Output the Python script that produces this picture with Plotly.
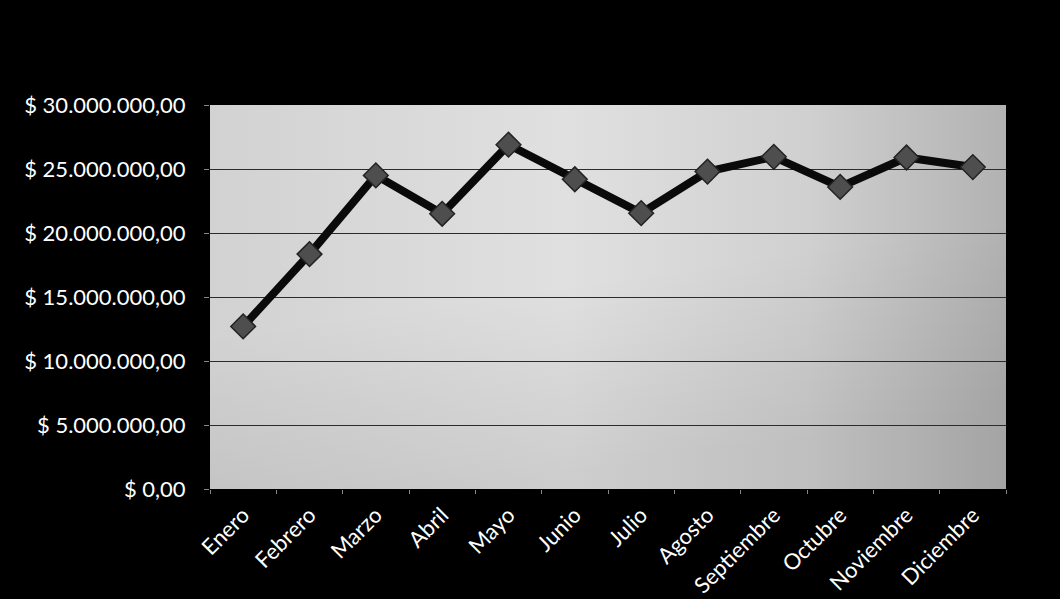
import plotly.graph_objects as go

meses = ["Enero", "Febrero", "Marzo", "Abril", "Mayo", "Junio", "Julio",
         "Agosto", "Septiembre", "Octubre", "Noviembre", "Diciembre"]
ventas = [12700000, 18350000, 24500000, 21500000, 26900000, 24200000,
          21550000, 24800000, 25950000, 23600000, 25900000, 25150000]
y_ticks = [0, 5000000, 10000000, 15000000, 20000000, 25000000, 30000000]
y_ticklabels = ["$ 0,00", "$ 5.000.000,00", "$ 10.000.000,00", "$ 15.000.000,00",
                "$ 20.000.000,00", "$ 25.000.000,00", "$ 30.000.000,00"]

svg = ("data:image/svg+xml;utf8,"
       "<svg xmlns='http://www.w3.org/2000/svg' width='800' height='400' preserveAspectRatio='none'>"
       "<defs><linearGradient id='g' x1='0' y1='0' x2='1' y2='0'>"
       "<stop offset='0' stop-color='%23d2d2d2'/>"
       "<stop offset='0.45' stop-color='%23e0e0e0'/>"
       "<stop offset='0.75' stop-color='%23d0d0d0'/>"
       "<stop offset='1' stop-color='%23b2b2b2'/></linearGradient>"
       "<linearGradient id='v' x1='0' y1='0' x2='0.3' y2='1'>"
       "<stop offset='0.55' stop-color='%23000' stop-opacity='0'/>"
       "<stop offset='1' stop-color='%23000' stop-opacity='0.08'/></linearGradient></defs>"
       "<rect width='800' height='400' fill='url(%23g)'/>"
       "<rect width='800' height='400' fill='url(%23v)'/></svg>")

fig = go.Figure()
fig.add_trace(go.Scatter(
    x=meses, y=ventas, mode="lines+markers",
    line=dict(color="#0a0a0a", width=8),
    marker=dict(symbol="diamond", size=19, color="#4e4e4e",
                line=dict(color="#222222", width=1.5)),
    showlegend=False,
))

fig.update_layout(
    width=1060, height=599,
    paper_bgcolor="#000000",
    plot_bgcolor="#cccccc",
    margin=dict(l=210, r=54, t=105, b=110),
    images=[dict(source=svg, xref="paper", yref="paper", x=0, y=1,
                 sizex=1, sizey=1, sizing="stretch", layer="below")],
    font=dict(family="Lato, Open Sans, sans-serif", color="#ffffff"),
)
fig.update_xaxes(
    tickangle=-45, tickfont=dict(size=22, color="#ffffff"), ticklabelstandoff=8,
    tickson="boundaries", ticks="outside", ticklen=4, tickcolor="#888888",
    showgrid=False, showline=False, range=[-0.5, 11.5], automargin=False,
)
fig.update_yaxes(
    range=[0, 30000000], tickvals=y_ticks, ticktext=y_ticklabels,
    tickfont=dict(size=22, color="#ffffff"), ticklabelstandoff=14,
    ticks="outside", ticklen=5, tickcolor="#888888",
    showgrid=True, gridcolor="#2b2b2b", gridwidth=1,
    zeroline=False, showline=False, automargin=False,
)

fig.write_html("out.html")
